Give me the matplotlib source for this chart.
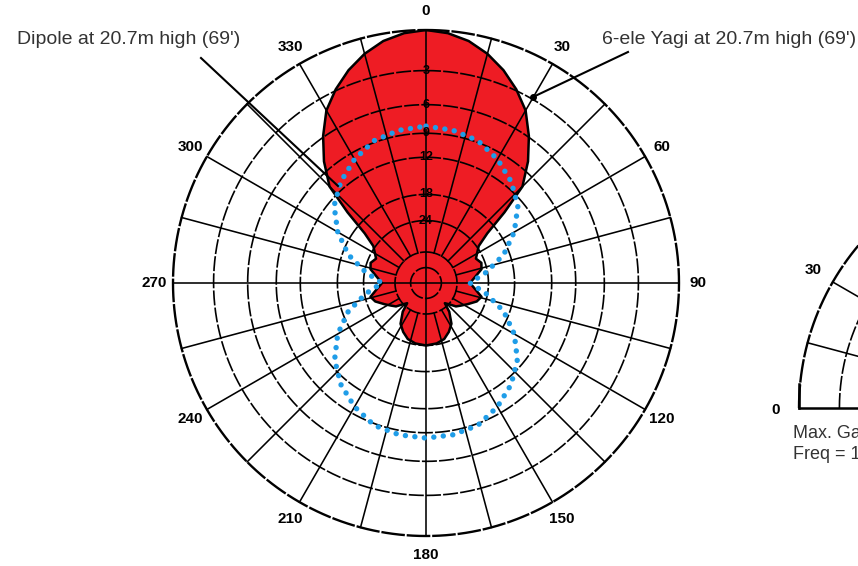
import numpy as np
import matplotlib
matplotlib.use("Agg")
import matplotlib.pyplot as plt

plt.rcParams["font.family"] = ["Liberation Sans", "DejaVu Sans"]

# azimuth patterns, right half 0..180 deg (left half is the mirror), dB relative to Yagi max
yagi_deg = [0, 5, 10, 15, 20, 25, 30, 35, 40, 45, 48, 51, 55, 60, 64, 70, 76, 83, 90,
            97, 104, 110, 117, 123, 128, 133, 137, 141, 148, 155, 162, 170, 180]
yagi_db = [0, -0.15, -0.5, -1.1, -1.9, -2.9, -4.1, -5.9, -8.0, -10.6, -15.0, -20.0, -23.5,
           -25.0, -26.0, -25.0, -25.5, -28.0, -30.0, -28.0, -25.5, -26.5, -29.0, -31.0,
           -32.5, -36.0, -38.0, -33.0, -28.5, -26.5, -25.0, -24.3, -24.0]

dipole_deg = [0, 10, 20, 30, 40, 50, 60, 70, 80, 90, 100, 110, 120, 130, 140, 150, 160, 170, 180]
dipole_db = [-8.2, -8.4, -8.8, -9.8, -11.1, -12.8, -15.6, -19.2, -24.4, -30.0, -24.4, -19.2,
             -15.6, -12.9, -11.1, -9.8, -8.8, -8.5, -8.4]

ring_db = [0, -3, -6, -9, -12, -18, -24, -36, -48]
ring_labels = {-3: "3", -6: "6", -9: "9", -12: "12", -18: "18", -24: "24"}
angle_labels = list(range(0, 360, 30))

RED = "#ee1c24"
BLUE = "#1f9de8"


def fwd(d):
    # ARRL log scale: radius shrinks by 0.89 every 2 dB
    return 0.89 ** (-np.asarray(d, dtype=float) / 2.0)


def inv(r):
    return -2.0 * np.log(np.asarray(r, dtype=float)) / np.log(0.89)


def mirror(deg, val):
    deg = np.asarray(deg, dtype=float)
    val = np.asarray(val, dtype=float)
    th = np.concatenate([deg, 360 - deg[::-1][1:]])
    v = np.concatenate([val, val[::-1][1:]])
    return np.radians(th), v


fig = plt.figure(figsize=(8.58, 5.66), dpi=100)

# main azimuth plot, centre (426,283) px, radius 253 px
ax = fig.add_axes([173 / 858, 30 / 566, 506 / 858, 506 / 566], projection="polar")
ax.set_theta_zero_location("N")
ax.set_theta_direction(-1)
ax.set_rscale("function", functions=(fwd, inv))

th, v = mirror(yagi_deg, yagi_db)
ax.fill(th, v, color=RED, lw=0, zorder=1)
ax.plot(th, v, color="k", lw=1.8, zorder=3)

th2, v2 = mirror(dipole_deg, dipole_db)
ax.plot(th2, v2, color=BLUE, lw=3.9, linestyle=(0, (0.01, 1.75)),
        dash_capstyle="round", zorder=4)

# grid
circ = np.linspace(0, 2 * np.pi, 721)
for db in ring_db:
    if db == 0:
        ax.plot(circ, np.full_like(circ, db), color="k", lw=1.7,
                linestyle=(0, (10, 0.8)), zorder=2, clip_on=False)
    else:
        ax.plot(circ, np.full_like(circ, db), color="k", lw=1.2,
                linestyle=(0, (9, 1.3)), zorder=2, clip_on=False)
for a in range(0, 360, 15):
    r0 = -150 if a % 90 == 0 else -36
    ax.plot([np.radians(a)] * 2, [r0, 0], color="k", lw=1.15, zorder=2, clip_on=False)

for db, lab in ring_labels.items():
    ax.text(0, db, lab, ha="center", va="center", fontsize=9,
            fontweight="bold", zorder=5)
for a in angle_labels:
    ax.text(np.radians(a), 1.25, str(a), ha="center", va="center",
            fontsize=11, fontweight="bold", clip_on=False)

ax.set_rlim(-150, 0)
ax.set_xticks([])
ax.set_yticks([])
ax.grid(False)
ax.spines["polar"].set_visible(False)

# overlay in pixel coordinates for leaders, captions and the elevation plot
ov = fig.add_axes([0, 0, 1, 1])
ov.set_xlim(0, 858)
ov.set_ylim(566, 0)
ov.axis("off")

ov.plot([201, 338], [58, 186], color="k", lw=1.5)
ov.plot([628, 533], [52, 97], color="k", lw=1.5)
ov.plot([533], [97], "o", color="k", ms=4)

ov.text(17, 44, "Dipole at 20.7m high (69')", fontsize=14, color="#333333",
        ha="left", va="baseline")
ov.text(602, 44, "6-ele Yagi at 20.7m high (69')", fontsize=14, color="#333333",
        ha="left", va="baseline")

# elevation plot, mostly off the right edge
cx, cy, R2 = 1051, 408, 252
half = np.linspace(0, np.pi, 361)
for db in ring_db:
    r = R2 * fwd(db)
    if db == 0:
        ov.plot(cx - r * np.cos(half), cy - r * np.sin(half), color="k", lw=1.7,
                linestyle=(0, (10, 0.8)))
    else:
        ov.plot(cx - r * np.cos(half), cy - r * np.sin(half), color="k", lw=1.2,
                linestyle=(0, (9, 1.3)))
for a in range(15, 180, 15):
    t = np.radians(a)
    r0 = R2 * fwd(-36)
    ov.plot([cx - r0 * np.cos(t), cx - R2 * np.cos(t)],
            [cy - r0 * np.sin(t), cy - R2 * np.sin(t)], color="k", lw=1.15)
ov.plot([cx - R2, cx + R2], [cy, cy], color="k", lw=1.8)
ov.plot([cx - R2, cx - R2], [cy, cy - 24], color="k", lw=1.8)
ov.text(813, 270, "30", ha="center", va="center", fontsize=11, fontweight="bold")
ov.text(776, 410, "0", ha="center", va="center", fontsize=11, fontweight="bold")
ov.text(793, 438, "Max. Gain = 12.68 dBi @ 12.0 deg", fontsize=13, color="#333333",
        ha="left", va="baseline")
ov.text(793, 459, "Freq = 14.150 MHz", fontsize=13, color="#333333",
        ha="left", va="baseline")

fig.savefig("out.png", dpi=100)
